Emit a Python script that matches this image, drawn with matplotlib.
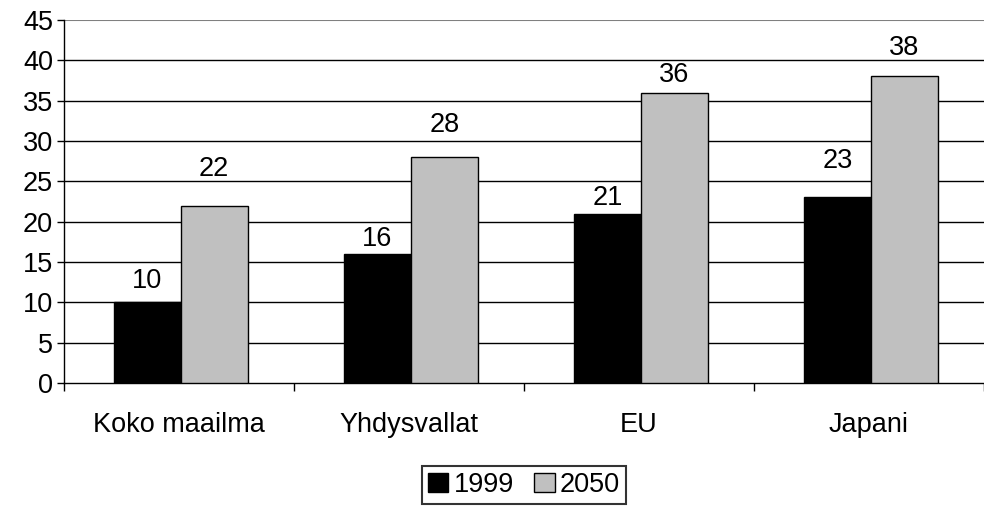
import numpy as np
import matplotlib
matplotlib.use('Agg')
import matplotlib.pyplot as plt

categories = ['Koko maailma', 'Yhdysvallat', 'EU', 'Japani']
series_names = ['1999', '2050']
values_1999 = [10, 16, 21, 23]
values_2050 = [22, 28, 36, 38]
yticks = [0, 5, 10, 15, 20, 25, 30, 35, 40, 45]

# label gap above each bar (pixels), labels were placed by hand in the original
gap_1999 = [14, 8, 9, 29]
gap_2050 = [30, 25, 11, 21]

plt.rcParams['font.family'] = ['Liberation Sans', 'DejaVu Sans']
fs = 19.5

fig = plt.figure(figsize=(9.84, 5.07), dpi=100)
ax = fig.add_axes([64 / 984, 1 - 383 / 507, 1 - 64 / 984, (383 - 20) / 507])

x = np.arange(len(categories))
w = 0.29
b1 = ax.bar(x - w / 2 + 0.008, values_1999, w, color='black', edgecolor='black', linewidth=1, label=series_names[0], zorder=3)
b2 = ax.bar(x + w / 2 + 0.008, values_2050, w, color='#c0c0c0', edgecolor='black', linewidth=1, label=series_names[1], zorder=3)

for bars, vals, gaps in ((b1, values_1999, gap_1999), (b2, values_2050, gap_2050)):
    for r, v, g in zip(bars, vals, gaps):
        ax.annotate(str(v), (r.get_x() + r.get_width() / 2, v), xytext=(0, g),
                    textcoords='offset pixels', ha='center', va='baseline', fontsize=fs)

ax.set_xlim(-0.5, len(categories) - 0.5)
ax.set_ylim(0, 45)
ax.set_yticks(yticks)
ax.tick_params(axis='y', labelsize=fs, length=5, width=1, direction='out', pad=3)
for y in yticks[1:-1]:
    ax.axhline(y, color='black', linewidth=1, zorder=1)
ax.axhline(45, color='#808080', linewidth=1.5, zorder=1)

ax.set_xticks(x)
ax.set_xticklabels(categories)
ax.tick_params(axis='x', which='major', length=0, labelsize=fs, pad=21)
ax.set_xticks(np.arange(len(categories) + 1) - 0.5, minor=True)
ax.tick_params(axis='x', which='minor', length=6, width=1, direction='out')

for s in ['top', 'right']:
    ax.spines[s].set_visible(False)
ax.spines['left'].set_linewidth(1)
ax.spines['bottom'].set_linewidth(1)

leg = fig.legend(handles=[b1, b2], loc='center', bbox_to_anchor=(524 / 984, 1 - 485 / 507),
                 ncol=2, fontsize=fs, frameon=True, fancybox=False, edgecolor='black',
                 handlelength=0.75, handleheight=0.7, handletextpad=0.2, columnspacing=0.75,
                 borderpad=0.22, borderaxespad=0)
leg.get_frame().set_linewidth(1.5)

fig.savefig('out.png', dpi=100)
